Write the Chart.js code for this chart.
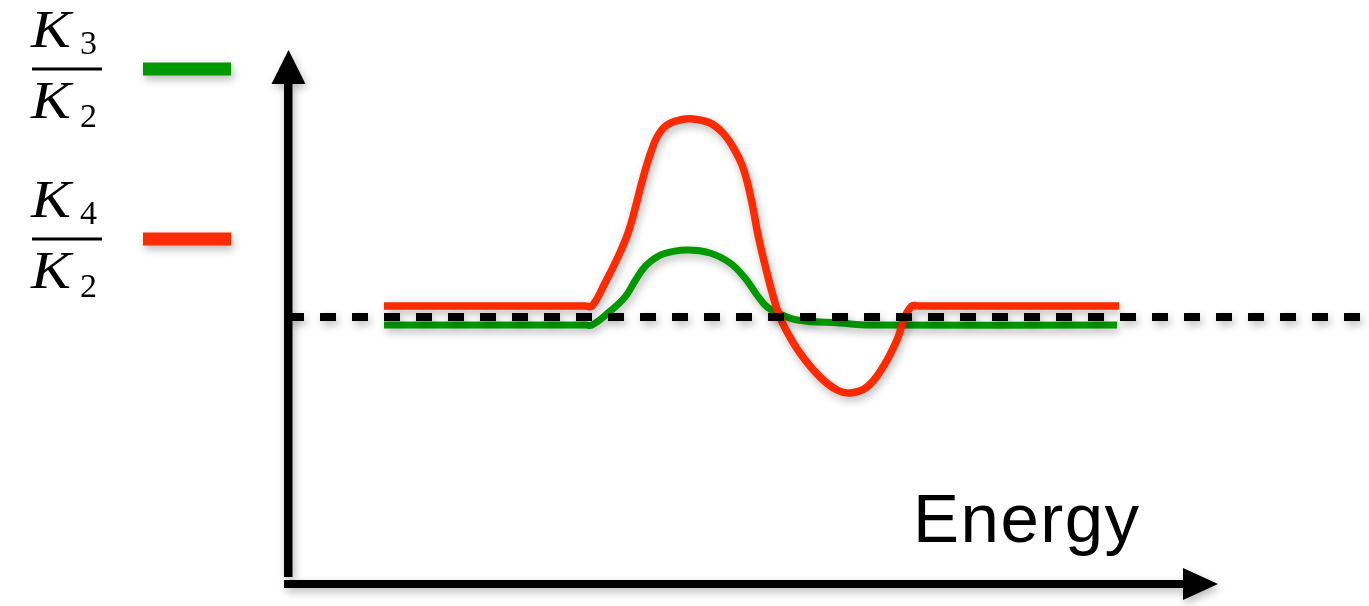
<!DOCTYPE html>
<html>
<head>
<meta charset="utf-8">
<script src="https://cdn.jsdelivr.net/npm/chart.js@4/dist/chart.umd.min.js"></script>
<style>
    body { margin: 0; background: #fff; }
    #chart { display: block; }
</style>
</head>
<body>
<canvas id="chart" width="1369" height="606"></canvas>
<script>
// energy (x) and ratio (y) values, ratio 1 = dashed baseline
const redEnergy = [1.032, 3.194, 3.269, 3.409, 3.548, 3.656, 3.742, 3.817, 3.892, 3.968, 4.075, 4.215, 4.355, 4.538, 4.677, 4.785, 4.882, 4.946, 5.0, 5.054, 5.129, 5.204, 5.269, 5.355, 5.505, 5.72, 5.903, 6.043, 6.226, 6.398, 6.548, 6.634, 6.71, 6.785, 8.935];
const redRatio = [1.055, 1.055, 1.055, 1.17, 1.30, 1.42, 1.56, 1.695, 1.81, 1.90, 1.96, 1.985, 1.99, 1.97, 1.92, 1.85, 1.76, 1.66, 1.545, 1.41, 1.26, 1.125, 1.025, 0.935, 0.82, 0.70, 0.635, 0.62, 0.65, 0.75, 0.885, 1.00, 1.055, 1.055, 1.055];

const greenEnergy = [1.032, 3.194, 3.269, 3.441, 3.624, 3.731, 3.817, 3.892, 4.032, 4.29, 4.538, 4.753, 4.914, 5.043, 5.151, 5.29, 5.473, 5.935, 6.258, 8.914];
const greenRatio = [0.96, 0.96, 0.96, 1.02, 1.10, 1.18, 1.24, 1.275, 1.315, 1.335, 1.32, 1.27, 1.195, 1.11, 1.05, 1.015, 0.985, 0.97, 0.96, 0.96];

const baseEnergy = [0, 11.7];
const baseRatio = [1, 1];

const legendItems = [
    { num: 'K', numSub: '3', den: 'K', denSub: '2', color: '#009a00' },
    { num: 'K', numSub: '4', den: 'K', denSub: '2', color: '#ff2a00' }
];
const xTitle = 'Energy';

const RED = '#ff2a00';
const GREEN = '#009a00';

function toPoints(xs, ys) {
    return xs.map((v, i) => ({ x: v, y: ys[i] }));
}

function setShadow(ctx) {
    ctx.shadowColor = 'rgba(0,0,0,0.28)';
    ctx.shadowBlur = 8;
    ctx.shadowOffsetX = 2;
    ctx.shadowOffsetY = 4;
}

function drawK(ctx, x, baseline) {
    ctx.save();
    ctx.translate(x, baseline);
    ctx.scale(1.15, 1);
    ctx.font = 'italic 52px "Liberation Serif"';
    ctx.fillText('K', 0, 0);
    ctx.restore();
}

const overlay = {
    id: 'overlay',
    beforeDatasetsDraw(chart) {
        const ctx = chart.ctx;
        const a = chart.chartArea;
        ctx.save();
        setShadow(ctx);
        ctx.fillStyle = '#000';
        // y axis with arrow
        ctx.fillRect(a.left - 4, a.top + 33, 8.5, a.bottom - 7 - (a.top + 33));
        ctx.beginPath();
        ctx.moveTo(a.left - 16.5, a.top + 34);
        ctx.lineTo(a.left + 0.5, a.top);
        ctx.lineTo(a.left + 17.5, a.top + 34);
        ctx.closePath();
        ctx.fill();
        // x axis with arrow
        ctx.fillRect(a.left - 4, a.bottom - 4, a.right - 35 - (a.left - 4), 8);
        ctx.beginPath();
        ctx.moveTo(a.right - 35, a.bottom - 16);
        ctx.lineTo(a.right, a.bottom);
        ctx.lineTo(a.right - 35, a.bottom + 16);
        ctx.closePath();
        ctx.fill();
        ctx.restore();

        ctx.save();
        setShadow(ctx);
    },
    afterDatasetsDraw(chart) {
        const ctx = chart.ctx;
        ctx.restore();

        // legend: fraction labels and colour bars
        const rows = [69, 239];
        legendItems.forEach((item, i) => {
            const cy = rows[i];
            ctx.save();
            ctx.fillStyle = '#000';
            ctx.textBaseline = 'alphabetic';
            drawK(ctx, 31, cy - 22);
            drawK(ctx, 31, cy + 49);
            ctx.font = '34px "Liberation Serif"';
            ctx.fillText(item.numSub, 80, cy - 15);
            ctx.fillText(item.denSub, 80, cy + 58);
            ctx.fillRect(32, cy - 1.5, 70, 3);
            setShadow(ctx);
            ctx.strokeStyle = item.color;
            ctx.lineWidth = 13;
            ctx.beginPath();
            ctx.moveTo(143, cy);
            ctx.lineTo(231, cy);
            ctx.stroke();
            ctx.restore();
        });

        ctx.save();
        ctx.fillStyle = '#000';
        ctx.font = '69px "Liberation Sans"';
        ctx.letterSpacing = '1.5px';
        ctx.textBaseline = 'alphabetic';
        ctx.fillText(xTitle, 913, 542);
        ctx.restore();
    }
};

new Chart(document.getElementById('chart'), {
    type: 'line',
    data: {
        datasets: [
            {
                data: toPoints(baseEnergy, baseRatio),
                borderColor: '#000',
                borderWidth: 8,
                borderDash: [16, 16],
                pointRadius: 0,
                clip: false
            },
            {
                data: toPoints(redEnergy, redRatio),
                borderColor: RED,
                borderWidth: 7.5,
                tension: 0.4,
                pointRadius: 0,
                clip: false
            },
            {
                data: toPoints(greenEnergy, greenRatio),
                borderColor: GREEN,
                borderWidth: 7,
                tension: 0.4,
                pointRadius: 0,
                clip: false
            }
        ]
    },
    options: {
        responsive: false,
        animation: false,
        layout: { padding: { left: 288, right: 151, top: 50, bottom: 22 } },
        scales: {
            x: { type: 'linear', min: 0, max: 10, display: false },
            y: { type: 'linear', min: -0.335, max: 2.335, display: false }
        },
        plugins: {
            legend: { display: false },
            tooltip: { enabled: false }
        }
    },
    plugins: [overlay]
});
</script>
</body>
</html>
